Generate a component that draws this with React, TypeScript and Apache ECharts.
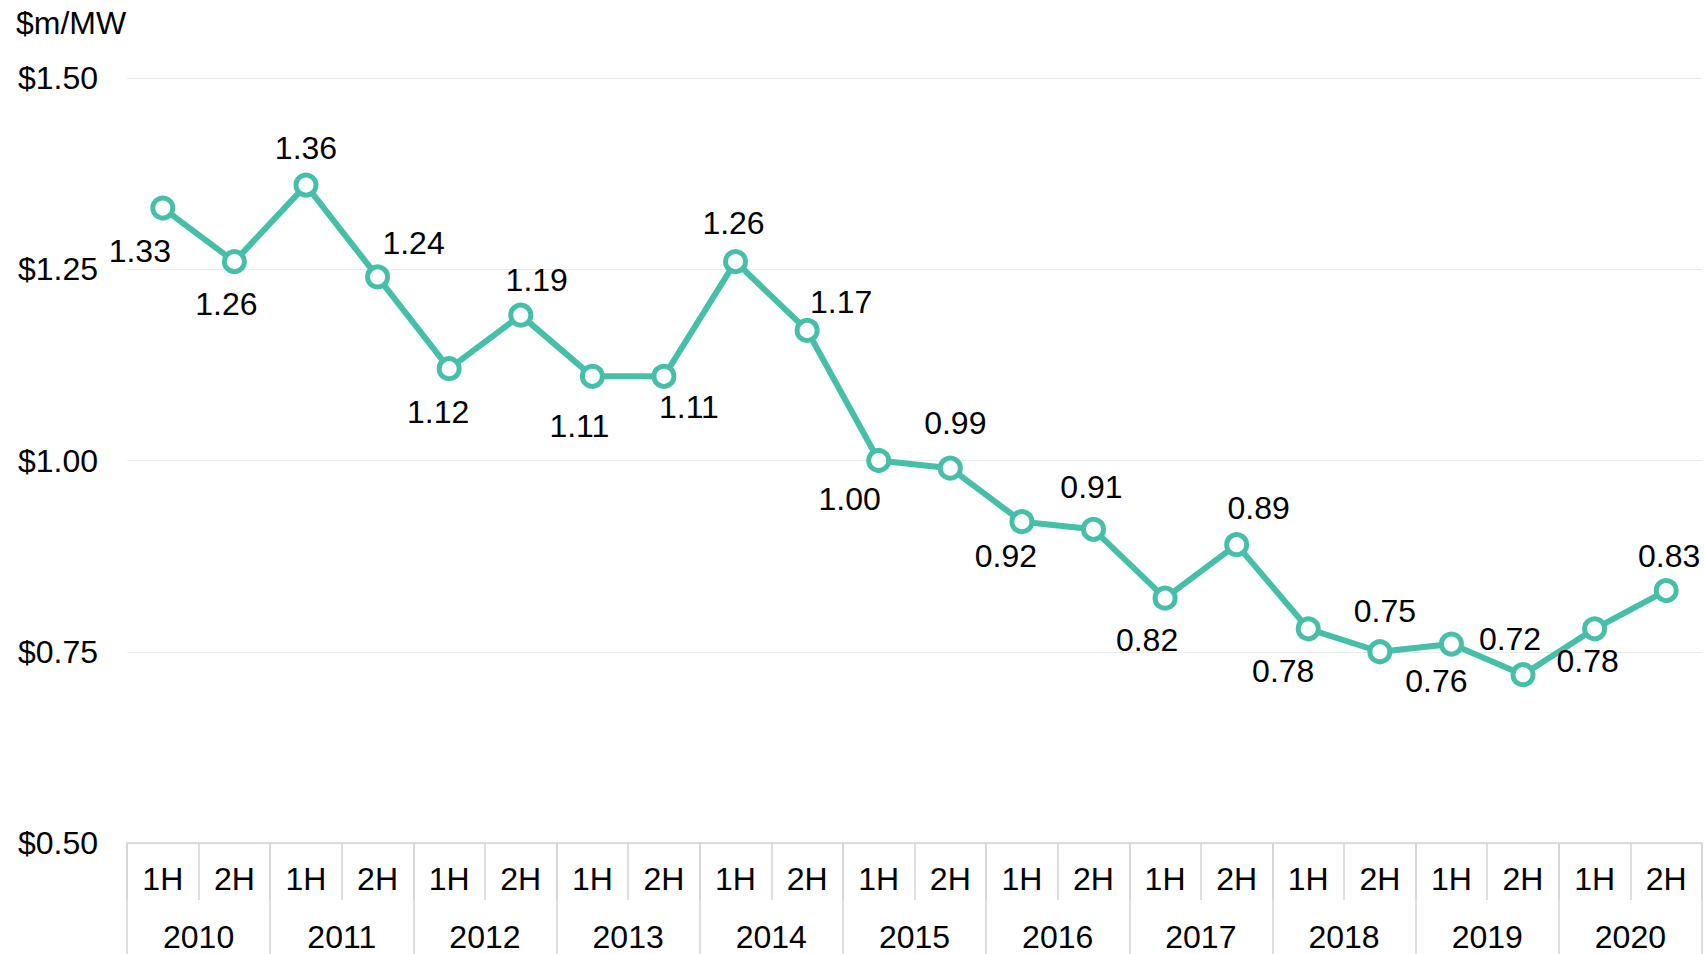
import React, { useEffect, useRef } from "react";
import * as echarts from "echarts";

const halves = ["1H", "2H", "1H", "2H", "1H", "2H", "1H", "2H", "1H", "2H", "1H", "2H", "1H", "2H", "1H", "2H", "1H", "2H", "1H", "2H", "1H", "2H"];
const years = ["2010", "2011", "2012", "2013", "2014", "2015", "2016", "2017", "2018", "2019", "2020"];
const costs = [1.33, 1.26, 1.36, 1.24, 1.12, 1.19, 1.11, 1.11, 1.26, 1.17, 1.0, 0.99, 0.92, 0.91, 0.82, 0.89, 0.78, 0.75, 0.76, 0.72, 0.78, 0.83];
const labelOffsets: [number, number][] = [
  [-23, 43], [-8, 42], [0, -37], [36, -34], [-11, 43], [16, -35], [-13, 50], [25, 31],
  [-2, -39], [34, -28], [-29, 38], [5, -45], [-16, 34], [-2, -42], [-18, 42], [22, -37],
  [-25, 42], [5, -41], [-15, 37], [-13, -36], [-7, 32], [3, -35],
];
const yTicks = { min: 0.5, max: 1.5, interval: 0.25 };

const FONT = "Liberation Sans, Arial, sans-serif";
const TEAL = "#46bfa9";
const FS = 32;

export default function App() {
  const ref = useRef<HTMLDivElement>(null);
  useEffect(() => {
    document.body.style.margin = "0";
    const chart = echarts.init(ref.current!, null, { renderer: "svg" });
    chart.setOption({
      animation: false,
      backgroundColor: "#ffffff",
      textStyle: { fontFamily: FONT },
      graphic: [
        {
          type: "text",
          left: 16,
          top: 7,
          style: { text: "$m/MW", font: `${FS}px ${FONT}`, fill: "#000" },
        },
      ],
      grid: { left: 127, right: 2, top: 78, bottom: 111, containLabel: false },
      xAxis: [
        {
          type: "category",
          data: halves,
          position: "bottom",
          boundaryGap: true,
          axisLine: { show: true, lineStyle: { color: "#d4d4d4", width: 1.5 } },
          axisTick: { show: true, interval: 0, length: 57, lineStyle: { color: "#d4d4d4", width: 1.5 } },
          axisLabel: { interval: 0, margin: 20, fontSize: FS, color: "#000", fontFamily: FONT },
        },
        {
          type: "category",
          data: years,
          position: "bottom",
          boundaryGap: true,
          axisLine: { show: false },
          axisTick: { show: true, interval: 0, length: 111, lineStyle: { color: "#d4d4d4", width: 1.5 } },
          axisLabel: { interval: 0, margin: 78, fontSize: FS, color: "#000", fontFamily: FONT },
        },
      ],
      yAxis: {
        type: "value",
        min: yTicks.min,
        max: yTicks.max,
        interval: yTicks.interval,
        axisLine: { show: false },
        axisTick: { show: false },
        axisLabel: {
          margin: 29,
          fontSize: FS,
          color: "#000",
          fontFamily: FONT,
          formatter: (v: number) => "$" + v.toFixed(2),
        },
        splitLine: {
          show: true,
          lineStyle: { color: "#ebebeb", width: 1 },
        },
      },
      series: [
        {
          type: "line",
          xAxisIndex: 0,
          data: costs.map((v, i) => ({
            value: v,
            label: { offset: labelOffsets[i] },
          })),
          lineStyle: { color: TEAL, width: 6 },
          symbol: "circle",
          symbolSize: 20,
          itemStyle: { color: "#ffffff", borderColor: TEAL, borderWidth: 5 },
          label: {
            show: true,
            position: "inside",
            align: "center",
            verticalAlign: "middle",
            fontSize: FS,
            color: "#000",
            fontFamily: FONT,
            formatter: (p: any) => Number(p.value).toFixed(2),
          },
          z: 3,
        },
      ],
    });
    return () => chart.dispose();
  }, []);
  return <div ref={ref} style={{ width: 1704, height: 954 }} />;
}
